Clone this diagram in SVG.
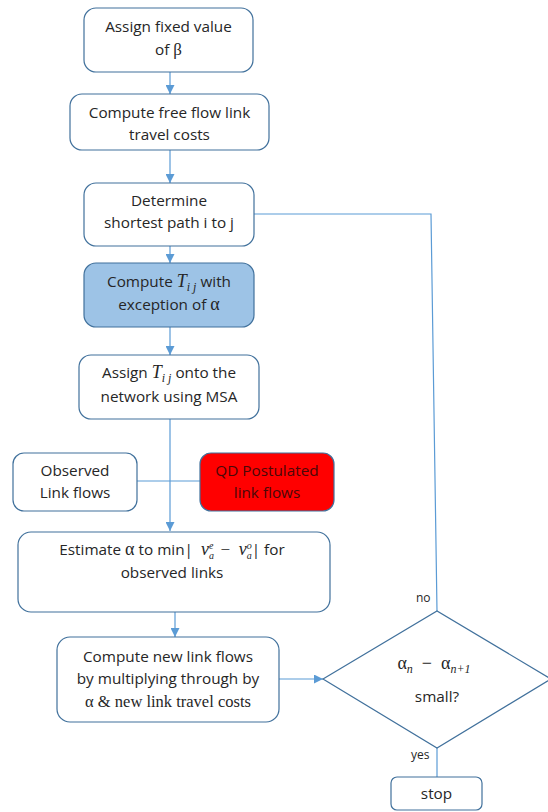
<svg xmlns="http://www.w3.org/2000/svg" width="548" height="812" viewBox="0 0 548 812">
<defs>
<marker id="ah" viewBox="0 0 10 10" refX="10" refY="5" markerWidth="9" markerHeight="9" markerUnits="userSpaceOnUse" orient="auto">
<path d="M0,0 L10,5 L0,10 z" fill="#5b9bd5"/>
</marker>
<style>
.box{fill:#fff;stroke:#41719c;stroke-width:1.2}
.blue{fill:#9dc3e6;stroke:#41719c;stroke-width:1.2}
.red{fill:#ff0000;stroke:#41719c;stroke-width:1.2}
.t{font-family:"Open Sans","Liberation Sans",sans-serif;font-size:15.3px;fill:#262626;text-anchor:middle}
.m{font-family:"Liberation Serif","DejaVu Serif",serif;font-style:italic}
.s{font-family:"Liberation Serif","DejaVu Serif",serif}
.c{fill:none;stroke:#5b9bd5;stroke-width:1.2}
.lbl{font-family:"Open Sans","Liberation Sans",sans-serif;font-size:12px;fill:#262626}
</style>
</defs>
<rect width="548" height="812" fill="#fff"/>
<g id="connectors">
<line class="c" x1="170" y1="72" x2="170" y2="94" marker-end="url(#ah)"/>
<line class="c" x1="170" y1="150" x2="170" y2="183" marker-end="url(#ah)"/>
<line class="c" x1="170" y1="246" x2="170" y2="263" marker-end="url(#ah)"/>
<line class="c" x1="170" y1="327" x2="170" y2="355" marker-end="url(#ah)"/>
<line class="c" x1="170" y1="419" x2="170" y2="531" marker-end="url(#ah)"/>
<line class="c" x1="137" y1="481" x2="200" y2="481"/>
<line class="c" x1="175" y1="612" x2="175" y2="637" marker-end="url(#ah)"/>
<line class="c" x1="279" y1="679" x2="323" y2="679" marker-end="url(#ah)"/>
<polyline class="c" points="254,214 431,214 437,611"/>
<line class="c" x1="437" y1="748" x2="437" y2="777"/>
<text class="lbl" x="416" y="602">no</text>
<text class="lbl" x="411" y="759">yes</text>
</g>
<g id="n1">
<rect class="box" x="84" y="8" width="169" height="64" rx="12"/>
<text class="t" x="168.5" y="32">Assign fixed value</text>
<text class="t" x="168.5" y="55">of <tspan class="s" font-size="17">β</tspan></text>
</g>
<g id="n2">
<rect class="box" x="70" y="94" width="199" height="56" rx="12"/>
<text class="t" x="169.5" y="118">Compute free flow link</text>
<text class="t" x="169.5" y="140">travel costs</text>
</g>
<g id="n3">
<rect class="box" x="84" y="183" width="170" height="63" rx="12"/>
<text class="t" x="169" y="206">Determine</text>
<text class="t" x="169" y="228">shortest path i to j</text>
</g>
<g id="n4">
<rect class="blue" x="84" y="263" width="170" height="64" rx="12"/>
<text class="t" x="169" y="287">Compute <tspan class="m" font-size="18">T</tspan><tspan class="m" font-size="12" dy="4">i j</tspan><tspan dy="-4"> with</tspan></text>
<text class="t" x="169" y="310">exception of <tspan class="s" font-size="18">α</tspan></text>
</g>
<g id="n5">
<rect class="box" x="79" y="355" width="180" height="64" rx="12"/>
<text class="t" x="169" y="378">Assign <tspan class="m" font-size="18">T</tspan><tspan class="m" font-size="12" dy="4">i j</tspan><tspan dy="-4"> onto the</tspan></text>
<text class="t" x="169" y="402">network using MSA</text>
</g>
<g id="n6">
<rect class="box" x="13" y="453" width="124" height="58" rx="11"/>
<text class="t" x="75" y="476">Observed</text>
<text class="t" x="75" y="498">Link flows</text>
</g>
<g id="n7">
<rect class="red" x="200" y="453" width="134" height="58" rx="11"/>
<text class="t" x="267" y="476" style="fill:#4a0808">QD Postulated</text>
<text class="t" x="267" y="498" style="fill:#4a0808">link flows</text>
</g>
<g id="n8">
<rect class="box" x="18" y="532" width="312" height="80" rx="13"/>
<text class="t" x="172" y="555">Estimate <tspan class="s" font-size="18">α</tspan> to min|&#160; <tspan class="m" font-size="18">v</tspan><tspan class="m" font-size="10" dy="4">a</tspan><tspan class="m" font-size="10" dx="-5" dy="-10">e</tspan><tspan class="s" font-size="17" dy="6" dx="3">&#160;−&#160;&#160;</tspan><tspan class="m" font-size="18">v</tspan><tspan class="m" font-size="10" dy="4">a</tspan><tspan class="m" font-size="10" dx="-5" dy="-10">o</tspan><tspan dy="6">| for</tspan></text>
<text class="t" x="172" y="578">observed links</text>
</g>
<g id="n9">
<rect class="box" x="57" y="637" width="222" height="85" rx="13"/>
<text class="t" x="168" y="662">Compute new link flows</text>
<text class="t" x="168" y="684">by multiplying through by</text>
<text class="t" x="168" y="707" style="font-family:'Liberation Serif',serif;font-size:16.5px">α &amp; new link travel costs</text>
</g>
<g id="n10">
<polygon class="box" points="323,679 437,611 551,679 437,748"/>
<text class="t" x="434" y="669"><tspan class="s" font-size="18">α</tspan><tspan class="m" font-size="12" dy="4">n</tspan><tspan class="s" dy="-4" font-size="18">&#160;&#160;−&#160;&#160;α</tspan><tspan class="m" font-size="12" dy="4">n+1</tspan></text>
<text class="t" x="437" y="702">small?</text>
</g>
<g id="n11">
<rect class="box" x="391" y="777" width="91" height="33" rx="6"/>
<text class="t" x="436.5" y="799">stop</text>
</g>
</svg>
